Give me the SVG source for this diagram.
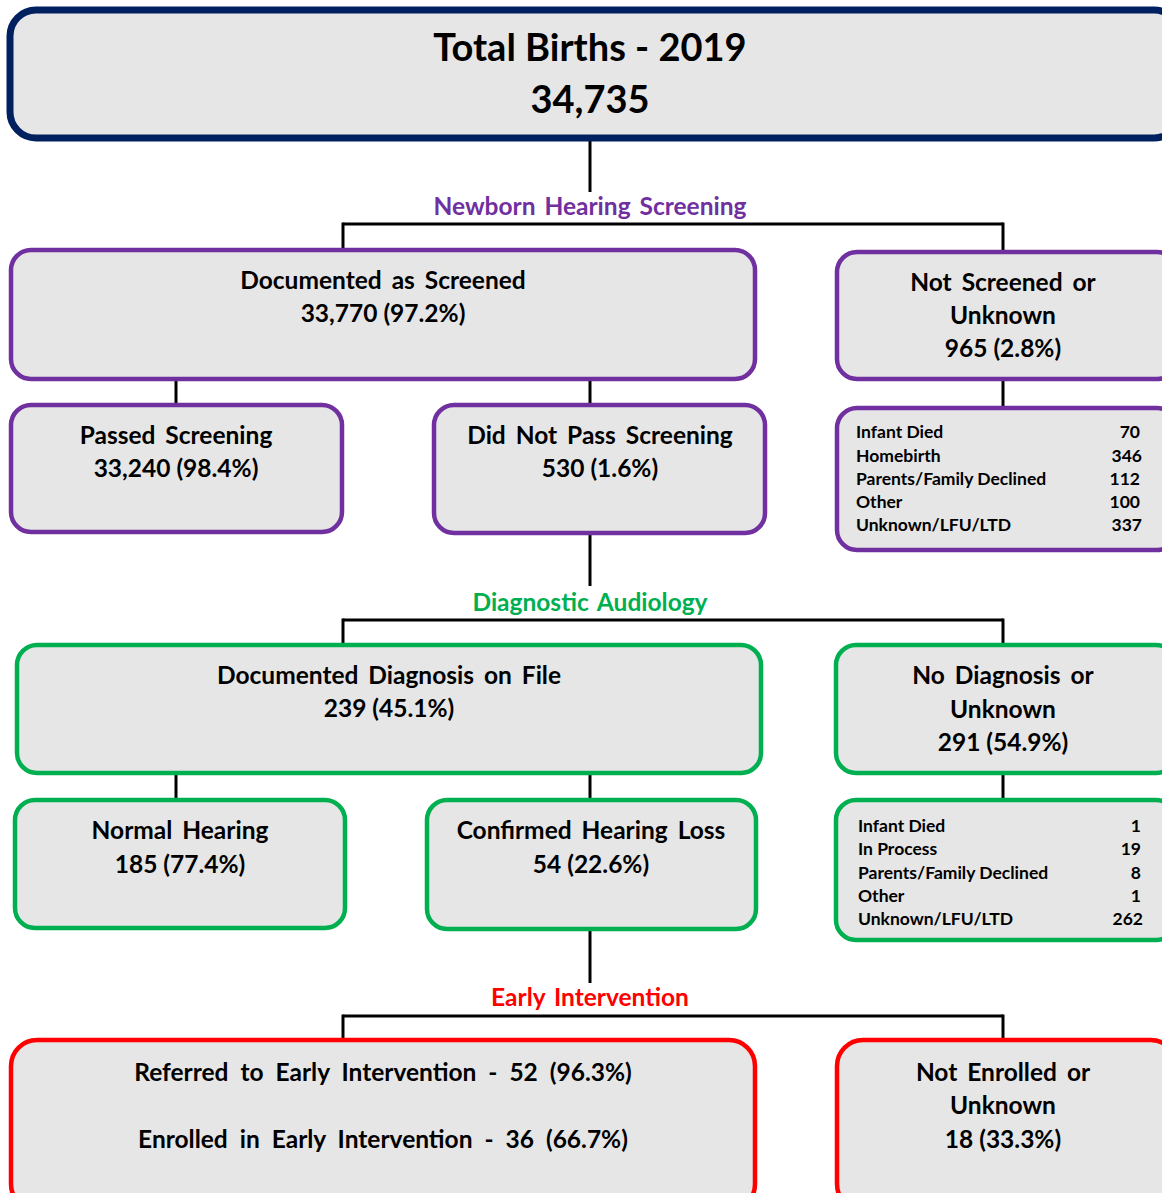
<svg xmlns="http://www.w3.org/2000/svg" width="1162" height="1193" viewBox="0 0 1162 1193">
<style>
.n{fill:#e6e6e6;stroke-width:4.5}
.navy{stroke:#002060;stroke-width:7}
.pur{stroke:#7030a0}
.grn{stroke:#00b050}
.red{stroke:#ff0000}
text{font-family:Lato,"Liberation Sans",sans-serif;font-weight:bold;fill:#000}
.t{font-size:24.5px;text-anchor:middle;word-spacing:4px}
.t.num{word-spacing:0}
.big{font-size:38px;text-anchor:middle}
.s{font-size:17.5px}
.r{font-size:17.5px;text-anchor:end}
.sec{font-size:24.5px;text-anchor:middle;word-spacing:3px}
.c line{stroke:#000;stroke-width:3}
</style>
<rect width="1162" height="1193" fill="#fff"/>
<g class="c" id="connectors">
<line x1="590" y1="140" x2="590" y2="192"/>
<line x1="343" y1="224" x2="1003" y2="224"/>
<line x1="343" y1="222.5" x2="343" y2="250"/>
<line x1="1003" y1="222.5" x2="1003" y2="252"/>
<line x1="176" y1="379" x2="176" y2="405"/>
<line x1="590" y1="379" x2="590" y2="405"/>
<line x1="1003" y1="379" x2="1003" y2="408"/>
<line x1="590" y1="533" x2="590" y2="586"/>
<line x1="343" y1="620" x2="1003" y2="620"/>
<line x1="343" y1="618.5" x2="343" y2="645"/>
<line x1="1003" y1="618.5" x2="1003" y2="645"/>
<line x1="176" y1="773" x2="176" y2="800"/>
<line x1="590" y1="773" x2="590" y2="800"/>
<line x1="1003" y1="773" x2="1003" y2="800"/>
<line x1="590" y1="929" x2="590" y2="983"/>
<line x1="343" y1="1016" x2="1003" y2="1016"/>
<line x1="343" y1="1014.5" x2="343" y2="1040"/>
<line x1="1003" y1="1014.5" x2="1003" y2="1040"/>
</g>
<text class="sec" x="590" y="215" style="fill:#7030a0">Newborn Hearing Screening</text>
<text class="sec" x="590" y="611" style="fill:#00b050">Diagnostic Audiology</text>
<text class="sec" x="590" y="1006" style="fill:#ff0000">Early Intervention</text>

<g id="total">
<rect class="n navy" x="10" y="10" width="1170" height="128" rx="26"/>
<text class="big" x="590" y="61">Total Births - 2019</text>
<text class="big" x="590" y="113">34,735</text>
</g>
<g id="screened">
<rect class="n pur" x="11" y="250" width="744" height="129" rx="20"/>
<text class="t" x="383" y="289">Documented as Screened</text>
<text class="t num" x="383" y="322">33,770 (97.2%)</text>
</g>
<g id="notscreened">
<rect class="n pur" x="837" y="252" width="340" height="127" rx="20"/>
<text class="t" x="1003" y="291">Not Screened or</text>
<text class="t" x="1003" y="324">Unknown</text>
<text class="t num" x="1003" y="357">965 (2.8%)</text>
</g>
<g id="passed">
<rect class="n pur" x="11" y="405" width="331" height="127" rx="20"/>
<text class="t" x="176" y="444">Passed Screening</text>
<text class="t num" x="176" y="477">33,240 (98.4%)</text>
</g>
<g id="didnotpass">
<rect class="n pur" x="434" y="405" width="331" height="128" rx="20"/>
<text class="t" x="600" y="444">Did Not Pass Screening</text>
<text class="t num" x="600" y="477">530 (1.6%)</text>
</g>
<g id="notscreened-list">
<rect class="n pur" x="837" y="408" width="340" height="142" rx="20"/>
<text class="s" x="856" y="438">Infant Died</text><text class="r" x="1140" y="438">70</text>
<text class="s" x="856" y="462">Homebirth</text><text class="r" x="1142" y="462">346</text>
<text class="s" x="856" y="485">Parents/Family Declined</text><text class="r" x="1140" y="485">112</text>
<text class="s" x="856" y="508">Other</text><text class="r" x="1140" y="508">100</text>
<text class="s" x="856" y="531">Unknown/LFU/LTD</text><text class="r" x="1142" y="531">337</text>
</g>
<g id="diagnosis">
<rect class="n grn" x="17" y="645" width="744" height="128" rx="20"/>
<text class="t" x="389" y="684">Documented Diagnosis on File</text>
<text class="t num" x="389" y="717">239 (45.1%)</text>
</g>
<g id="nodiagnosis">
<rect class="n grn" x="836" y="645" width="340" height="128" rx="20"/>
<text class="t" x="1003" y="684">No Diagnosis or</text>
<text class="t" x="1003" y="718">Unknown</text>
<text class="t num" x="1003" y="751">291 (54.9%)</text>
</g>
<g id="normal">
<rect class="n grn" x="15" y="800" width="330" height="128" rx="20"/>
<text class="t" x="180" y="839">Normal Hearing</text>
<text class="t num" x="180" y="873">185 (77.4%)</text>
</g>
<g id="confirmed">
<rect class="n grn" x="427" y="800" width="329" height="129" rx="20"/>
<text class="t" x="591" y="839">Confirmed Hearing Loss</text>
<text class="t num" x="591" y="873">54 (22.6%)</text>
</g>
<g id="nodiagnosis-list">
<rect class="n grn" x="836" y="800" width="340" height="140" rx="20"/>
<text class="s" x="858" y="832">Infant Died</text><text class="r" x="1141" y="832">1</text>
<text class="s" x="858" y="855">In Process</text><text class="r" x="1141" y="855">19</text>
<text class="s" x="858" y="879">Parents/Family Declined</text><text class="r" x="1141" y="879">8</text>
<text class="s" x="858" y="902">Other</text><text class="r" x="1141" y="902">1</text>
<text class="s" x="858" y="925">Unknown/LFU/LTD</text><text class="r" x="1143" y="925">262</text>
</g>
<g id="referred">
<rect class="n red" x="11" y="1040" width="744" height="170" rx="26"/>
<text class="t" x="383" y="1081" style="word-spacing:6px">Referred to Early Intervention -  52 (96.3%)</text>
<text class="t" x="383" y="1148" style="word-spacing:6px">Enrolled in Early Intervention -  36 (66.7%)</text>
</g>
<g id="notenrolled">
<rect class="n red" x="837" y="1040" width="340" height="170" rx="26"/>
<text class="t" x="1003" y="1081">Not Enrolled or</text>
<text class="t" x="1003" y="1114">Unknown</text>
<text class="t num" x="1003" y="1148">18 (33.3%)</text>
</g>
</svg>
